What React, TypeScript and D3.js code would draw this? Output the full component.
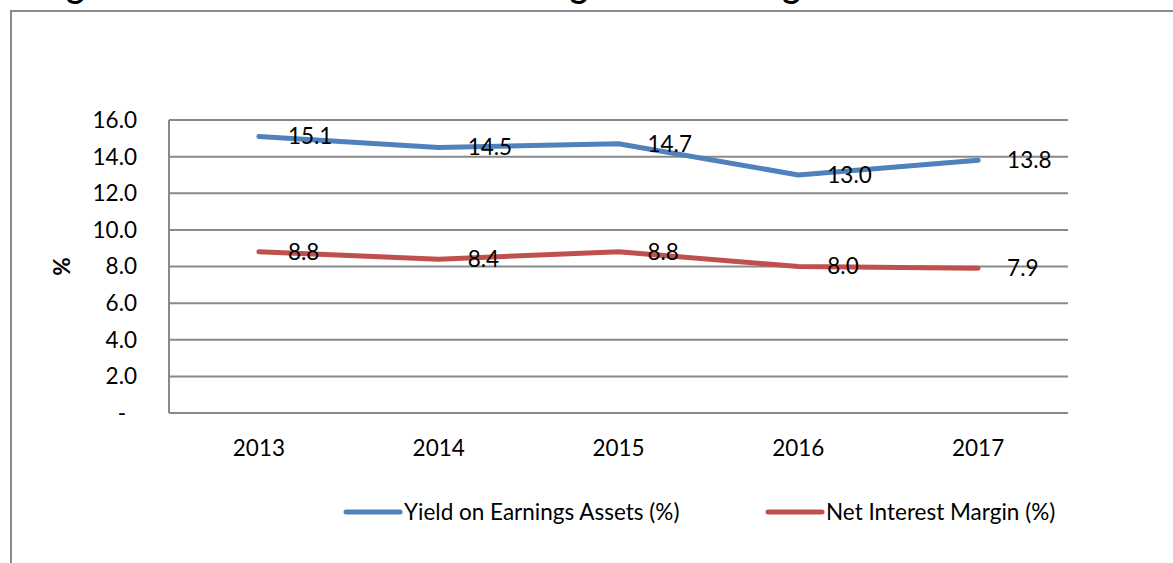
import React from "react";
import * as d3 from "d3";

const years = ["2013", "2014", "2015", "2016", "2017"];
const yieldValues = [15.1, 14.5, 14.7, 13.0, 13.8];
const nimValues = [8.8, 8.4, 8.8, 8.0, 7.9];
const yTicks = [0, 2, 4, 6, 8, 10, 12, 14, 16];
const seriesNames = ["Yield on Earnings Assets (%)", "Net Interest Margin (%)"];
const titleText = "Figure 5: Trends in Net Interest Margin and Earnings Yield";

const W = 1173;
const H = 563;
const FONT = "Lato, 'Open Sans', sans-serif";
const FS = 22.5;

export default function App() {
  const x = d3.scalePoint<string>().domain(years).range([169, 1068]).padding(0.5);
  const y = d3.scaleLinear().domain([0, 16]).range([413, 120]);
  const line = d3
    .line<number>()
    .x((_, i) => x(years[i]) as number)
    .y((d) => y(d));

  const series = [
    { name: seriesNames[0], values: yieldValues, color: "#4F81BD" },
    { name: seriesNames[1], values: nimValues, color: "#C0504D" },
  ];
  const legendX = [346, 768];
  const grid = "#898989";

  return (
    <svg
      width={W}
      height={H}
      style={{ position: "absolute", left: 0, top: 0, background: "#fff" }}
      fontFamily={FONT}
    >
      <text x={39} y={-2} fontSize={33.7} fontWeight="bold" fill="#000" fontFamily="Lato, sans-serif">
        {titleText}
      </text>
      <rect x={11} y={11} width={1300} height={700} fill="none" stroke="#8a8a8a" strokeWidth={2} />

      {yTicks.map((t) => (
        <g key={t}>
          <line x1={169} x2={1068} y1={y(t)} y2={y(t)} stroke={grid} strokeWidth={2} />
          <text
            x={t === 0 ? 126 : 137}
            y={y(t)}
            dy="0.35em"
            textAnchor="end"
            fontSize={FS}
            fill="#000"
          >
            {t === 0 ? "-" : d3.format(".1f")(t)}
          </text>
        </g>
      ))}
      <line x1={169} x2={169} y1={y(16)} y2={y(0)} stroke={grid} strokeWidth={2} />

      <text
        transform={`translate(${62},${(y(0) + y(16)) / 2}) rotate(-90)`}
        textAnchor="middle"
        dy="0.35em"
        fontSize={FS}
        fontWeight="bold"
        fill="#000"
      >
        %
      </text>

      {years.map((yr) => (
        <text key={yr} x={x(yr)} y={448} dy="0.35em" textAnchor="middle" fontSize={FS} fill="#000">
          {yr}
        </text>
      ))}

      {series.map((s) => (
        <g key={s.name}>
          <path
            d={line(s.values) || ""}
            fill="none"
            stroke={s.color}
            strokeWidth={5}
            strokeLinecap="round"
            strokeLinejoin="round"
          />
          {s.values.map((v, i) => (
            <text
              key={i}
              x={(x(years[i]) as number) + 29}
              y={y(v)}
              dy="0.35em"
              textAnchor="start"
              fontSize={FS}
              fill="#000"
            >
              {d3.format(".1f")(v)}
            </text>
          ))}
        </g>
      ))}

      {series.map((s, i) => (
        <g key={"lg" + i}>
          <line
            x1={legendX[i]}
            x2={legendX[i] + 54}
            y1={512}
            y2={512}
            stroke={s.color}
            strokeWidth={5}
            strokeLinecap="round"
          />
          <text x={legendX[i] + 58} y={512} dy="0.35em" fontSize={FS} fill="#000">
            {s.name}
          </text>
        </g>
      ))}
    </svg>
  );
}
